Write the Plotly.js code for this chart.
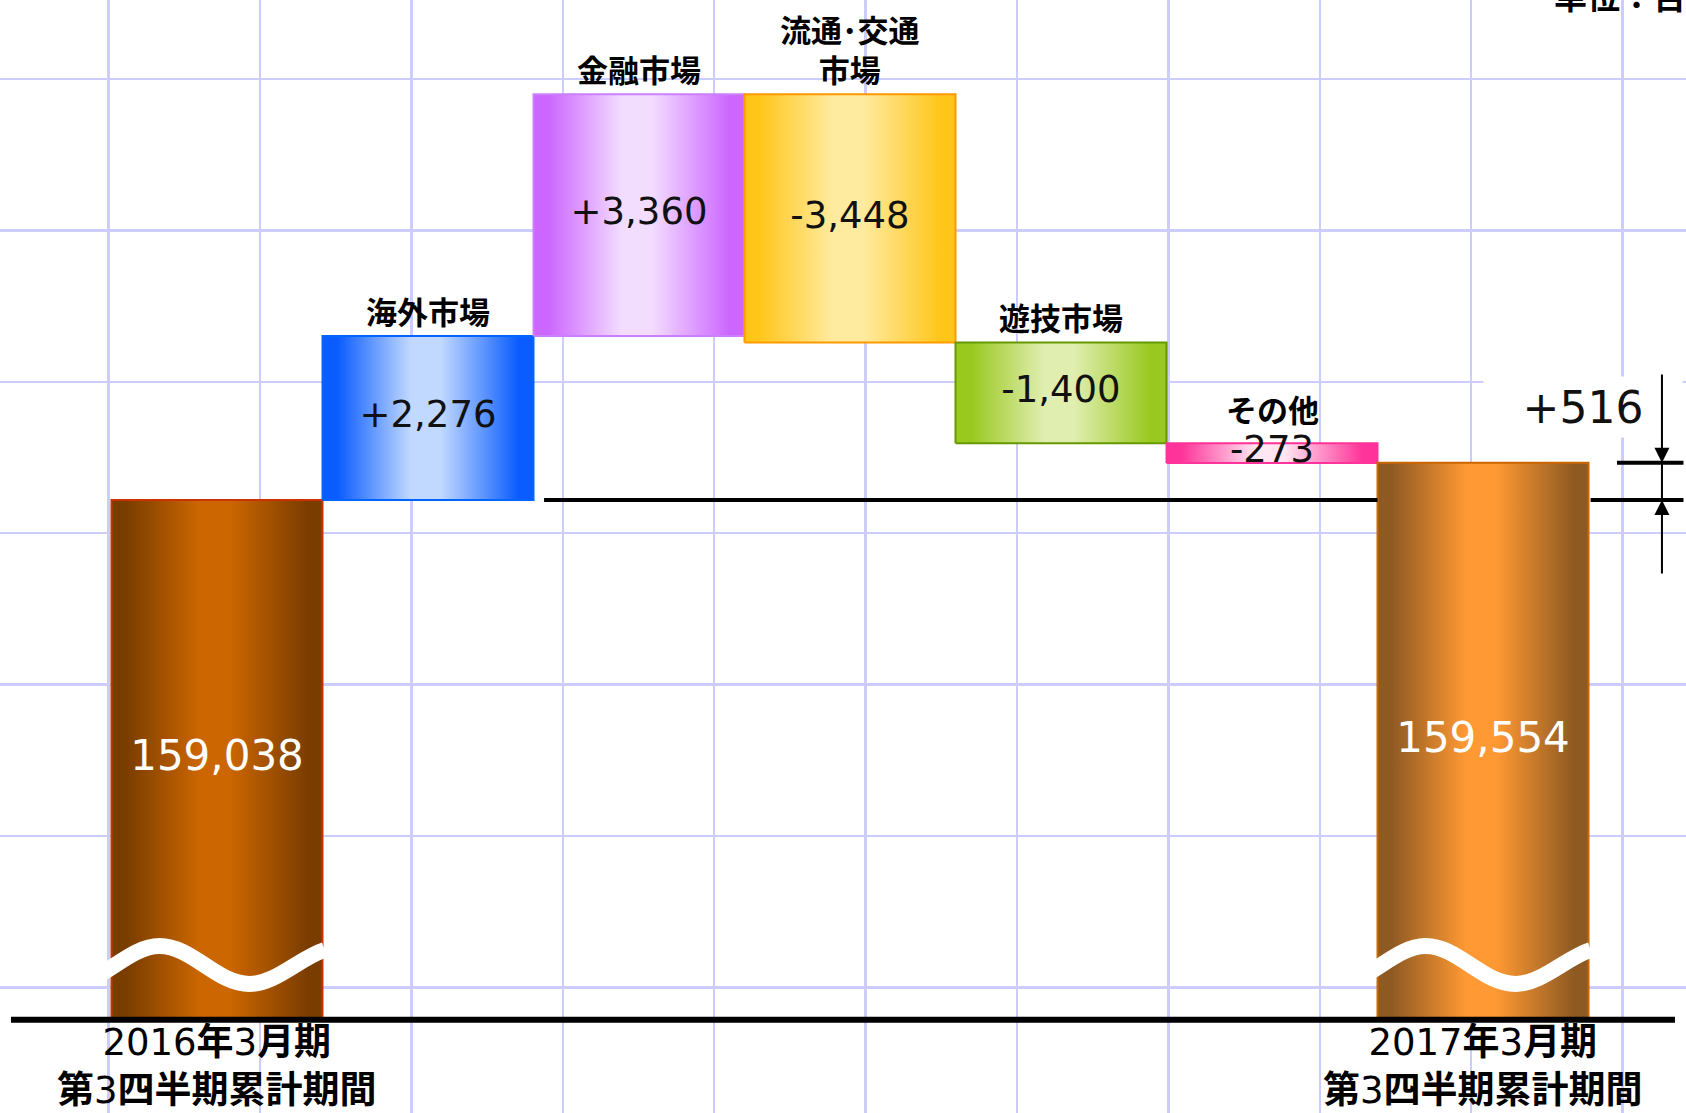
<!DOCTYPE html>
<html>
<head>
<meta charset="utf-8">
<script src="https://cdn.plot.ly/plotly-3.0.1.min.js"></script>
<style>
  html, body { margin: 0; padding: 0; background: #ffffff; }
  #chart { width: 1686px; height: 1113px; }
</style>
</head>
<body>
<div id="chart"></div>
<script>
// ---------------- data ----------------
const categories = ['2016年3月期|第3四半期累計期間', '海外市場', '金融市場', '流通･交通|市場', '遊技市場', 'その他', '2017年3月期|第3四半期累計期間'];
const measures   = ['absolute', 'relative', 'relative', 'relative', 'relative', 'relative', 'total'];
const values     = [159038, 2276, 3360, -3448, -1400, -273, 159554];
const unitText   = '単位：百万円';

// ---------------- styles ----------------
const edgeColors   = ['#7a3d00', '#0a5cff', '#cc66ff', '#ffc61a', '#99c81e', '#ff3399', '#8f5a22'];
const midColors    = ['#cc6600', '#c2d9ff', '#f3ddff', '#ffeba0', '#e0eeb0', '#ffe6f2', '#ff9933'];
const borderColors = ['#cc3300', '#0066ff', '#cc80ff', '#ff9900', '#669900', '#ff3399', '#cc6600'];

const NUM_FONT = '"DejaVu Sans", "Noto Sans CJK JP", sans-serif';
const CJK_FONT = '"Noto Sans CJK JP", sans-serif';

const W = 1686, H = 1113;
const X_RANGE = [-1.0284, 6.962];
const PX_PER_UNIT = 0.072;
const Y_TOP = 165982.4;
const Y_RANGE = [Y_TOP - H / PX_PER_UNIT, Y_TOP];
const pxX = px => X_RANGE[0] + px * (X_RANGE[1] - X_RANGE[0]) / W;
const pxY = px => Y_RANGE[1] - px * (Y_RANGE[1] - Y_RANGE[0]) / H;
const xPx = x => (x - X_RANGE[0]) * W / (X_RANGE[1] - X_RANGE[0]);
const FLOOR = pxY(1019.7);   // broken-axis baseline

// ---------------- bars ----------------
let running = 0;
const bars = values.map((v, i) => {
  let lo, hi;
  if (measures[i] === 'relative') { lo = running; hi = running + v; running += v; }
  else { lo = FLOOR; hi = v; running = v; }
  return { lo: Math.min(lo, hi), hi: Math.max(lo, hi) };
});
const last = values.length - 1;

const traces = [];
traces.push({ type: 'scatter', x: [], y: [], xaxis: 'x', yaxis: 'y', hoverinfo: 'skip' });

bars.forEach((b, i) => {
  const e = edgeColors[i], m = midColors[i];
  traces.push({
    type: 'scatter', mode: 'lines', xaxis: 'x2', yaxis: 'y2',
    x: [i - 0.5, i + 0.5, i + 0.5, i - 0.5, i - 0.5],
    y: [b.lo, b.lo, b.hi, b.hi, b.lo],
    fill: 'toself',
    fillgradient: {
      type: 'horizontal', start: i - 0.5, stop: i + 0.5,
      colorscale: [[0, e], [0.07, e], [0.42, m], [0.56, m], [0.93, e], [1, e]]
    },
    line: { color: borderColors[i], width: 2 },
    hoverinfo: 'skip'
  });
});

const fmt = (v, i) => measures[i] === 'relative'
  ? (v > 0 ? '+' : '-') + Math.abs(v).toLocaleString('en-US')
  : v.toLocaleString('en-US');

const mids = bars.map(b => (b.lo + b.hi) / 2);
traces.push({
  type: 'scatter', mode: 'text', xaxis: 'x2', yaxis: 'y2',
  x: values.map((v, i) => i),
  y: mids,
  text: values.map(fmt),
  textposition: 'middle center',
  textfont: {
    family: NUM_FONT,
    size: values.map((v, i) => measures[i] === 'relative' ? 37 : 42),
    color: values.map((v, i) => measures[i] === 'relative' ? '#111111' : '#ffffff')
  },
  hoverinfo: 'skip'
});

// ---------------- annotations ----------------
const annotations = [];
const halfText = 19 / PX_PER_UNIT;   // half height of a value label, in axis units
values.forEach((v, i) => {
  if (measures[i] === 'relative') {
    annotations.push({
      x: i, y: Math.max(bars[i].hi, mids[i] + halfText), xref: 'x2', yref: 'y2',
      yanchor: 'bottom', xanchor: 'center', yshift: 1, showarrow: false,
      text: '<b>' + categories[i].split('|').join('<br>') + '</b>',
      font: { family: CJK_FONT, size: 31, color: '#000000' }
    });
  } else {
    const lines = categories[i].split('|').map(s => s.replace(/([^0-9]+)/g, '<b>$1</b>'));
    annotations.push({
      x: i, y: (H - 1066) / H, xref: 'x2', yref: 'paper', yanchor: 'middle', xanchor: 'center',
      showarrow: false, text: lines.join('<br>'),
      font: { family: NUM_FONT, size: 37, color: '#000000' }
    });
  }
});

// unit label (cut by top edge)
annotations.push({
  x: 1552 / W, y: (H - 21) / H, xref: 'paper', yref: 'paper', xanchor: 'left', yanchor: 'bottom',
  showarrow: false, text: '<b>' + unitText + '</b>',
  font: { family: CJK_FONT, size: 33, color: '#000000' }
});

// change label on a white box
const diff = values[last] - values[0];
annotations.push({
  x: pxX(1583), y: pxY(407), xref: 'x2', yref: 'y2', xanchor: 'center', yanchor: 'middle',
  showarrow: false, text: (diff >= 0 ? '+' : '-') + Math.abs(diff).toLocaleString('en-US'),
  bgcolor: '#ffffff', width: 196, height: 58, borderpad: 1, borderwidth: 1, bordercolor: 'rgba(0,0,0,0)',
  font: { family: NUM_FONT, size: 44, color: '#111111' }
});

// arrows
const xArrow = last + 0.848;
annotations.push({
  x: xArrow, y: values[last], ax: xArrow, ay: pxY(373), xref: 'x2', yref: 'y2', axref: 'x2', ayref: 'y2',
  text: '', showarrow: true, arrowhead: 2, arrowsize: 1.5, arrowwidth: 2, arrowcolor: '#000000', standoff: 0
});
annotations.push({
  x: xArrow, y: values[0], ax: xArrow, ay: pxY(575), xref: 'x2', yref: 'y2', axref: 'x2', ayref: 'y2',
  text: '', showarrow: true, arrowhead: 2, arrowsize: 1.5, arrowwidth: 2, arrowcolor: '#000000', standoff: 0
});

// ---------------- shapes ----------------
function wavePath(i) {
  const L = xPx(i - 0.5);
  const p = (dx, py) => pxX(L + dx) + ',' + pxY(py);
  return 'M' + p(-20, 979) +
    ' C' + p(2, 969) + ' ' + p(24, 946) + ' ' + p(48, 946) +
    ' C' + p(81, 946) + ' ' + p(105, 984) + ' ' + p(138, 984) +
    ' C' + p(164, 984) + ' ' + p(188, 958) + ' ' + p(213, 950);
}

const shapes = [
  // level line of the starting value (left of and right of the final bar)
  { type: 'line', xref: 'x2', yref: 'y2', layer: 'above',
    x0: 1 + 0.55, x1: last - 0.5, y0: values[0], y1: values[0],
    line: { color: '#000000', width: 4 } },
  { type: 'line', xref: 'x2', yref: 'y2', layer: 'above',
    x0: last + 0.51, x1: last + 0.95, y0: values[0], y1: values[0],
    line: { color: '#000000', width: 4 } },
  // level line of the final value
  { type: 'line', xref: 'x2', yref: 'y2', layer: 'above',
    x0: last + 0.635, x1: last + 0.95, y0: values[last], y1: values[last],
    line: { color: '#000000', width: 4 } },
  // vertical dimension line between the two levels
  { type: 'line', xref: 'x2', yref: 'y2', layer: 'above',
    x0: xArrow, x1: xArrow, y0: values[0], y1: values[last],
    line: { color: '#000000', width: 2 } },
  // axis-break waves
  { type: 'path', xref: 'x2', yref: 'y2', layer: 'above', path: wavePath(0),
    line: { color: '#ffffff', width: 16 } },
  { type: 'path', xref: 'x2', yref: 'y2', layer: 'above', path: wavePath(last),
    line: { color: '#ffffff', width: 16 } },
  // baseline
  { type: 'line', xref: 'x2', yref: 'y2', layer: 'above',
    x0: pxX(11), x1: pxX(1675), y0: FLOOR, y1: FLOOR,
    line: { color: '#000000', width: 6 } }
];

// ---------------- layout ----------------
const gridAxis = {
  showgrid: true, gridcolor: '#ccccff', gridwidth: 2.5, zeroline: false, showline: false,
  showticklabels: false, ticks: '', dtick: 1, tick0: 0, fixedrange: true
};
const layout = {
  width: W, height: H,
  margin: { l: 0, r: 0, t: 0, b: 0, pad: 0 },
  paper_bgcolor: '#ffffff', plot_bgcolor: '#ffffff',
  showlegend: false,
  xaxis: Object.assign({}, gridAxis, { range: [-108.6 / 151.4, -108.6 / 151.4 + W / 151.4] }),
  yaxis: Object.assign({}, gridAxis, { range: [7 + 79 / 151.4 - H / 151.4, 7 + 79 / 151.4] }),
  xaxis2: { overlaying: 'x', range: X_RANGE, visible: false, fixedrange: true },
  yaxis2: { overlaying: 'y', range: Y_RANGE, visible: false, fixedrange: true },
  annotations: annotations,
  shapes: shapes,
  font: { family: NUM_FONT }
};

Plotly.newPlot('chart', traces, layout, { displayModeBar: false, staticPlot: true });
</script>
</body>
</html>
